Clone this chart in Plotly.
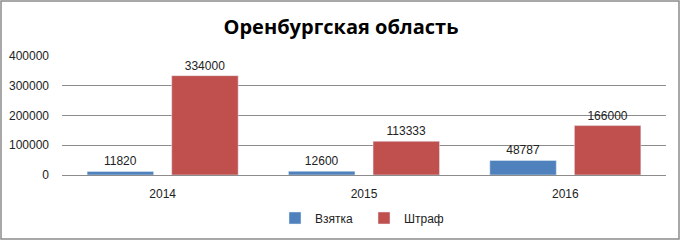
import plotly.graph_objects as go

years = ["2014", "2015", "2016"]
bribe = [11820, 12600, 48787]
fine = [334000, 113333, 166000]
tick_vals = [0, 100000, 200000, 300000, 400000]
tick_text = ["0", "100000", "200000", "300000", "400000"]

font_family = "Liberation Sans, Arial, sans-serif"

fig = go.Figure()
fig.add_trace(go.Bar(name="Взятка", x=years, y=bribe, marker_color="#4F81BD",
                     text=[str(v) for v in bribe], textposition="outside",
                     textfont=dict(size=12, color="#222222"), cliponaxis=False))
fig.add_trace(go.Bar(name="Штраф", x=years, y=fine, marker_color="#C0504D",
                     text=[str(v) for v in fine], textposition="outside",
                     textfont=dict(size=12, color="#222222"), cliponaxis=False))

L, R, T, B = 62, 16, 56, 67
W, H = 682, 242
pw, ph = W - L - R, H - T - B

def px2x(px):
    return (px - L) / pw

def py2y(py):
    return (H - B - py) / ph

fig.update_layout(
    width=W, height=H,
    margin=dict(l=L, r=R, t=T, b=B, pad=0, autoexpand=False),
    paper_bgcolor="white", plot_bgcolor="white",
    barmode="group", bargap=0.16, bargroupgap=0.214,
    font=dict(family=font_family, size=12, color="#222222"),
    title=dict(text="<b>Оренбургская область</b>", x=0.5, xanchor="center",
               y=1 - 27 / H, yanchor="middle",
               font=dict(family="Open Sans, Liberation Sans, sans-serif", size=20, color="black")),
    showlegend=True,
    legend=dict(orientation="h", x=0.5, xanchor="center", y=py2y(218), yanchor="middle",
                font=dict(size=12), itemwidth=30, entrywidth=44, traceorder="normal"),
    xaxis=dict(showgrid=False, showline=False, ticks="", ticklabelstandoff=10,
               tickfont=dict(size=12)),
    yaxis=dict(range=[0, 400000], tickvals=tick_vals, ticktext=tick_text,
               showgrid=True, gridcolor="#8C8C8C", gridwidth=1,
               zeroline=True, zerolinecolor="#8C8C8C", zerolinewidth=1,
               showline=False, ticks="", ticklabelstandoff=12,
               tickfont=dict(size=12)),
    shapes=[dict(type="rect", xref="paper", yref="paper",
                 x0=px2x(1), x1=px2x(679), y0=py2y(239), y1=py2y(1),
                 line=dict(color="#8C8C8C", width=1.5), fillcolor="rgba(0,0,0,0)",
                 layer="below")],
)

fig.write_html("out.html", config={"displayModeBar": False},
               post_script="document.body.style.margin='0';")
